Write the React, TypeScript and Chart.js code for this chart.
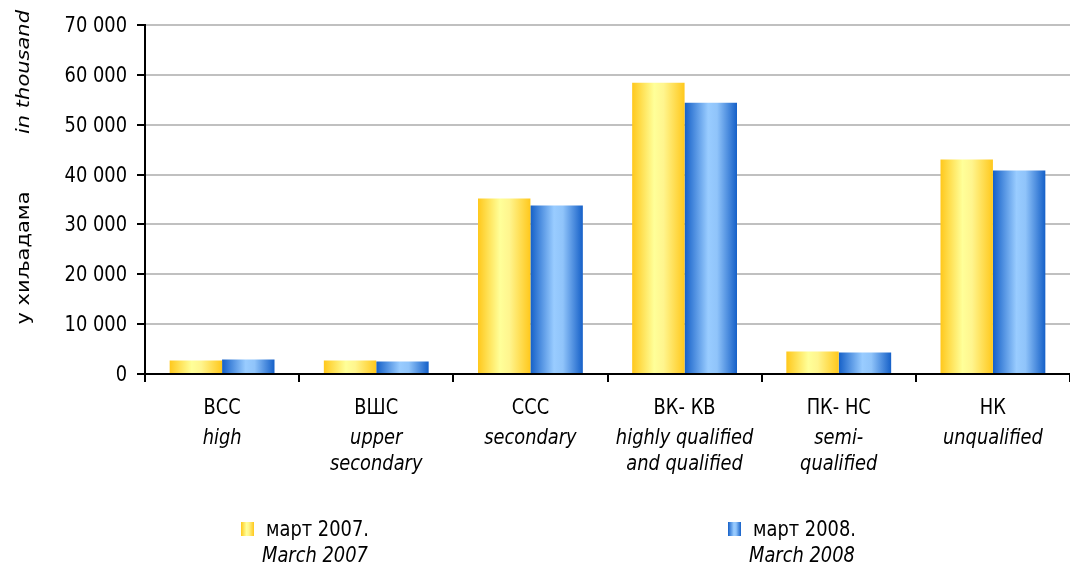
import React, { useEffect, useRef } from "react";
import { Chart, registerables } from "chart.js";
Chart.register(...registerables);

const categories = ["ВСС", "ВШС", "ССС", "ВК- КВ", "ПК- НС", "НК"];
const categoriesEn = [["high"], ["upper", "secondary"], ["secondary"], ["highly qualified", "and qualified"], ["semi-", "qualified"], ["unqualified"]];
const march2007 = [2700, 2700, 35200, 58400, 4500, 43000];
const march2008 = [2900, 2500, 33800, 54400, 4300, 40800];
const seriesLabels = ["март 2007.", "март 2008."];
const seriesLabelsEn = ["March 2007", "March 2008"];
const axisTitle = "у хиљадама";
const axisTitleEn = "in thousand";
const yMax = 70000;
const yStep = 10000;

const FONT = '"DejaVu Sans", Verdana, sans-serif';
const FS = 21;
const SQ = 0.85;
const CAT_PCT = 0.68;

const yellowStops: [number, string][] = [[0, "#FFC81C"], [0.42, "#FFFF99"], [0.6, "#FFF58E"], [1, "#FFC81C"]];
const blueStops: [number, string][] = [[0, "#1560C8"], [0.45, "#99CCFF"], [0.62, "#90C4FA"], [1, "#1560C8"]];

function grad(ctx: CanvasRenderingContext2D, x0: number, x1: number, stops: [number, string][]) {
  const g = ctx.createLinearGradient(x0, 0, x1, 0);
  stops.forEach(([o, c]) => g.addColorStop(o, c));
  return g;
}

function fill(stops: [number, string][], dsIndex: number) {
  return (c: any) => {
    const chart = c.chart;
    const xs = chart.scales?.x;
    if (!xs || c.type !== "data" || !chart.chartArea) return stops[1][1];
    const center = xs.getPixelForValue(c.dataIndex);
    const w = (xs.width / categories.length) * CAT_PCT / 2;
    const left = dsIndex === 0 ? center - w : center;
    return grad(chart.ctx, left, left + w, stops);
  };
}

const fmt = (v: number) => String(v).replace(/\B(?=(\d{3})+(?!\d))/g, " ");

function txt(ctx: CanvasRenderingContext2D, s: string, x: number, y: number, align: CanvasTextAlign, italic: boolean) {
  ctx.save();
  ctx.translate(x, y);
  ctx.scale(SQ, 1);
  ctx.textAlign = align;
  ctx.textBaseline = "alphabetic";
  ctx.font = `${italic ? "italic " : ""}${FS}px ${FONT}`;
  ctx.fillText(s, 0, 0);
  ctx.restore();
}

const textPlugin = {
  id: "texts",
  afterDraw(chart: any) {
    const ctx: CanvasRenderingContext2D = chart.ctx;
    const xs = chart.scales.x;
    const ys = chart.scales.y;
    ctx.save();
    ctx.fillStyle = "#000";
    // y tick labels
    for (let v = 0; v <= yMax; v += yStep) {
      txt(ctx, fmt(v), 127, ys.getPixelForValue(v) + 7, "right", false);
    }
    // x labels
    categories.forEach((cat, i) => {
      const cx = xs.getPixelForValue(i);
      txt(ctx, cat, cx, 414, "center", false);
      categoriesEn[i].forEach((l, k) => txt(ctx, l, cx, 444 + k * 26, "center", true));
    });
    // legend
    const items = [
      { bx: 241, stops: yellowStops },
      { bx: 728, stops: blueStops },
    ];
    items.forEach((it, i) => {
      ctx.fillStyle = grad(ctx, it.bx, it.bx + 13, it.stops);
      ctx.fillRect(it.bx, 522, 13, 14);
      ctx.fillStyle = "#000";
      txt(ctx, seriesLabels[i], it.bx + 25, 536, "left", false);
      txt(ctx, seriesLabelsEn[i], it.bx + 21, 562, "left", true);
    });
    // y title
    ctx.save();
    ctx.translate(29, 0);
    ctx.rotate(-Math.PI / 2);
    ctx.scale(1, SQ);
    ctx.textAlign = "center";
    ctx.textBaseline = "alphabetic";
    ctx.font = `italic ${FS}px ${FONT}`;
    ctx.fillText(axisTitleEn, -72, 0);
    ctx.font = `${FS}px ${FONT}`;
    ctx.fillText(axisTitle, -258, 0);
    ctx.restore();
    ctx.restore();
  },
};

export default function App() {
  const ref = useRef<HTMLCanvasElement>(null);
  useEffect(() => {
    if (!ref.current) return;
    const chart = new Chart(ref.current, {
      type: "bar",
      data: {
        labels: categories,
        datasets: [
          { label: seriesLabels[0], data: march2007, backgroundColor: fill(yellowStops, 0), borderWidth: 0 },
          { label: seriesLabels[1], data: march2008, backgroundColor: fill(blueStops, 1), borderWidth: 0 },
        ],
      },
      options: {
        animation: false,
        responsive: true,
        maintainAspectRatio: false,
        layout: { padding: { top: 25, right: 0, bottom: 0, left: 0 } },
        datasets: { bar: { categoryPercentage: CAT_PCT, barPercentage: 1 } },
        plugins: { legend: { display: false }, tooltip: { enabled: false } },
        scales: {
          x: {
            ticks: { display: false },
            grid: { offset: true, drawOnChartArea: false, drawTicks: true, tickLength: 8, tickColor: "#000", tickWidth: 2, color: "#000", lineWidth: 2 },
            border: { color: "#000", width: 2 },
            afterFit: (s: any) => { s.height = 193; },
          },
          y: {
            min: 0,
            max: yMax,
            ticks: { stepSize: yStep, display: false },
            grid: { color: "#C0C0C0", lineWidth: 2, drawTicks: true, tickLength: 8, tickColor: "#000", tickWidth: 2 },
            border: { color: "#000", width: 2 },
            afterFit: (s: any) => { s.width = 145; },
          },
        },
      },
      plugins: [textPlugin],
    });
    return () => chart.destroy();
  }, []);
  return (
    <div style={{ position: "fixed", left: 0, top: 0, width: 1070, height: 567, background: "#fff" }}>
      <canvas ref={ref} />
    </div>
  );
}
